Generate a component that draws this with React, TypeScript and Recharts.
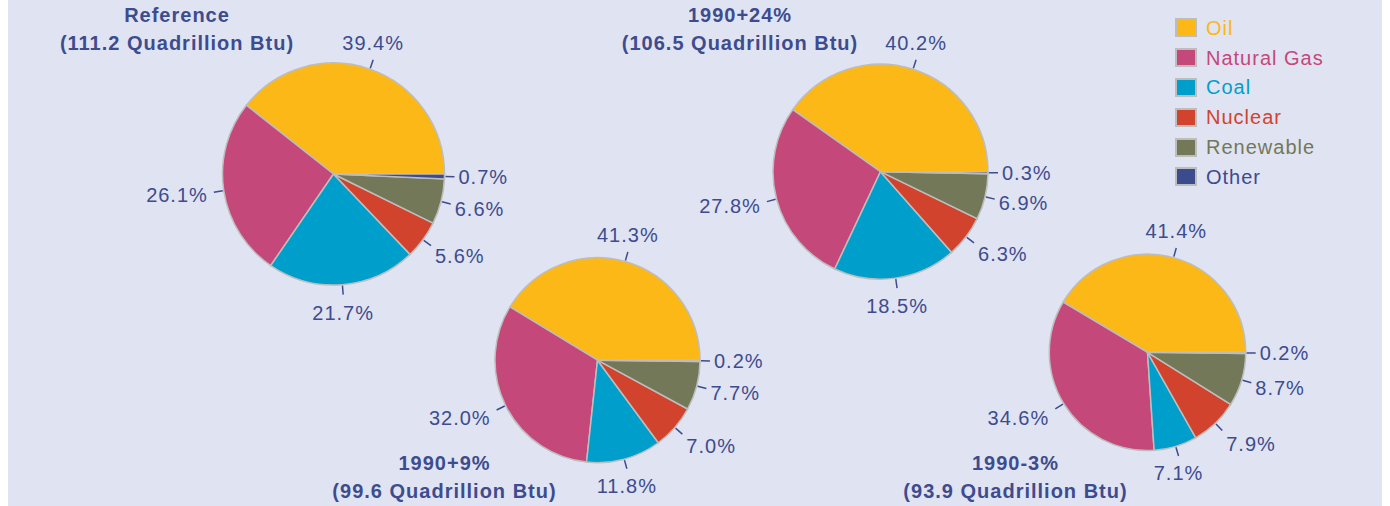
import React from "react";
import { PieChart, Pie, Cell } from "recharts";

const categories = ["Oil", "Natural Gas", "Coal", "Nuclear", "Renewable", "Other"];
const referenceShares = [39.4, 26.1, 21.7, 5.6, 6.6, 0.7];
const plus24Shares = [40.2, 27.8, 18.5, 6.3, 6.9, 0.3];
const plus9Shares = [41.3, 32.0, 11.8, 7.0, 7.7, 0.2];
const minus3Shares = [41.4, 34.6, 7.1, 7.9, 8.7, 0.2];
const scenarioNames = ["Reference", "1990+24%", "1990+9%", "1990-3%"];
const scenarioTotals = ["111.2", "106.5", "99.6", "93.9"];

const COLORS = ["#FBB817", "#C5487A", "#009FCB", "#D2432E", "#737858", "#3C4A8E"];
const TEXT = "#3D4C8E";
const BG = "#E0E3F2";
const EDGE = "#BDBDBD";
const FONT = "'Liberation Sans', Arial, sans-serif";
const RAD = Math.PI / 180;

const toData = (shares: number[]) =>
  categories.map((name, i) => ({ name, value: shares[i] }));

// leader tick + percentage, placed around the slice's mid angle
function renderLabel(props: any) {
  const { cx, cy, midAngle, outerRadius, value } = props;
  const cos = Math.cos(-midAngle * RAD);
  const sin = Math.sin(-midAngle * RAD);
  const sx = cx + (outerRadius + 1) * cos;
  const sy = cy + (outerRadius + 1) * sin;
  const ex = cx + (outerRadius + 10) * cos;
  const ey = cy + (outerRadius + 10) * sin;
  let anchor: "start" | "middle" | "end" = "middle";
  let tx = ex;
  if (cos > 0.45) {
    anchor = "start";
    tx = ex + 4;
  } else if (cos < -0.45) {
    anchor = "end";
    tx = ex - 6;
  }
  const ty = ey + sin * 18;
  return (
    <g>
      <line x1={sx} y1={sy} x2={ex} y2={ey} stroke={TEXT} strokeWidth={1.5} />
      <text
        x={tx}
        y={ty}
        textAnchor={anchor}
        dominantBaseline="central"
        fill={TEXT}
        fontSize={20}
        letterSpacing={1}
        fontFamily={FONT}
      >
        {Number(value).toFixed(1)}%
      </text>
    </g>
  );
}

const pies = [
  { shares: referenceShares, cx: 325.5, cy: 174, r: 111 },
  { shares: plus24Shares, cx: 872.5, cy: 171.7, r: 107.5 },
  { shares: plus9Shares, cx: 589.5, cy: 360.2, r: 102.5 },
  { shares: minus3Shares, cx: 1139.5, cy: 352.3, r: 98.2 },
];

// title blocks: centre x and top of first line (container coords)
const titles = [
  { x: 169, top: 1 },
  { x: 732, top: 1 },
  { x: 436.5, top: 449 },
  { x: 1007.5, top: 449 },
];

export default function App() {
  return (
    <div
      style={{
        position: "absolute",
        left: 8,
        top: 0,
        width: 1374,
        height: 506,
        background: BG,
        fontFamily: FONT,
      }}
    >
      <PieChart width={1374} height={506} margin={{ top: 0, right: 0, bottom: 0, left: 0 }}>
        {pies.map((p, k) => (
          <Pie
            key={k}
            data={toData(p.shares)}
            dataKey="value"
            nameKey="name"
            cx={p.cx}
            cy={p.cy}
            outerRadius={p.r}
            startAngle={0}
            endAngle={360}
            stroke={EDGE}
            strokeWidth={1.5}
            label={renderLabel}
            labelLine={false}
            isAnimationActive={false}
          >
            {categories.map((c, i) => (
              <Cell key={c} fill={COLORS[i]} />
            ))}
          </Pie>
        ))}
      </PieChart>

      {titles.map((t, k) => (
        <div
          key={k}
          style={{
            position: "absolute",
            left: t.x - 200,
            top: t.top,
            width: 400,
            textAlign: "center",
            color: TEXT,
            fontWeight: "bold",
            fontSize: 20,
            letterSpacing: 1,
            lineHeight: "28px",
          }}
        >
          <div>{scenarioNames[k]}</div>
          <div>({scenarioTotals[k]} Quadrillion Btu)</div>
        </div>
      ))}

      <div style={{ position: "absolute", left: 1167, top: 13 }}>
        {categories.map((c, i) => (
          <div
            key={c}
            style={{ display: "flex", alignItems: "center", height: 29.8 }}
          >
            <div
              style={{
                width: 18,
                height: 15,
                background: COLORS[i],
                border: `2px solid ${EDGE}`,
                marginRight: 9,
              }}
            />
            <span
              style={{
                color: COLORS[i],
                fontSize: 20,
                letterSpacing: 1,
                lineHeight: "22px",
              }}
            >
              {c}
            </span>
          </div>
        ))}
      </div>
    </div>
  );
}
